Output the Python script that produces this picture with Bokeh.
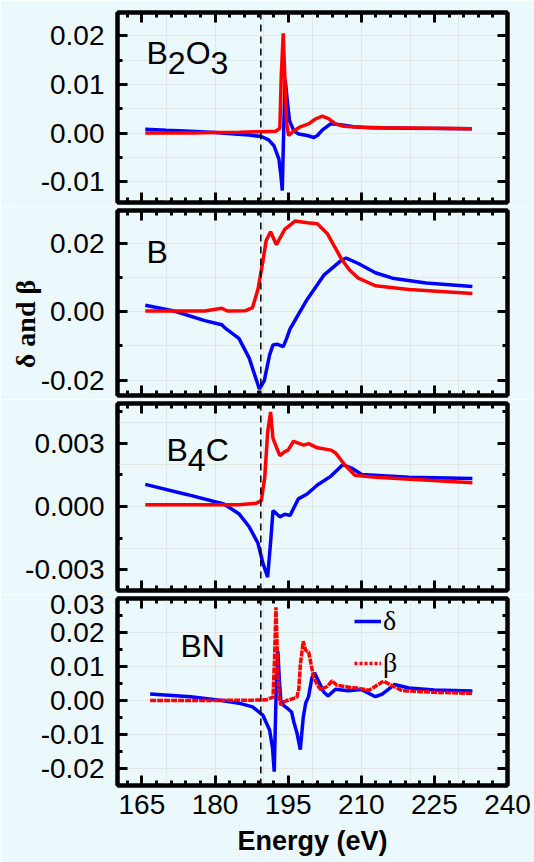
import numpy as np
from bokeh.plotting import figure
from bokeh.layouts import column
from bokeh.models import (Range1d, LinearAxis, FixedTicker, NumeralTickFormatter,
                          Span, Label, Legend, LegendItem, CustomLabelingPolicy)
from bokeh.embed import file_html
from bokeh.resources import INLINE

# ---------------- data ----------------
x_major_ticks = [165, 180, 195, 210, 225, 240]
x_minor_ticks = list(range(162, 241, 3))
edge_energy = 189.4

# B2O3
b2o3_E_delta = [165.7, 170, 175, 180, 184, 187, 189.5, 191, 192.1, 193.1, 193.5, 193.8,
                194.1, 194.4, 194.9, 195.3, 196.2, 197.2, 198.9, 200.3, 201.0, 202.0,
                203.7, 205.7, 208.5, 212, 220, 232.7]
b2o3_delta = [0.0008, 0.0006, 0.0004, 0.0001, -0.0002, -0.0004, -0.0007, -0.0014, -0.0026,
              -0.0053, -0.0085, -0.0118, 0.001, 0.011, 0.006, 0.0025, 0.0004, -0.0002,
              -0.0005, -0.0009, -0.0005, 0.0006, 0.0019, 0.0017, 0.0013, 0.0011, 0.001, 0.0009]
b2o3_E_beta = [165.7, 175, 180, 185, 189.5, 192.5, 193.3, 193.6, 194.0, 194.3, 194.7, 195.1,
               196.2, 197.5, 199.2, 200.6, 202.0, 203.3, 204.7, 206.4, 209.8, 215, 225, 232.7]
b2o3_beta = [0.0, 0.0, 0.0001, 0.0002, 0.0003, 0.0004, 0.001, 0.012, 0.0205, 0.012, 0.002,
             -0.0005, 0.0005, 0.0013, 0.0019, 0.0029, 0.0035, 0.003, 0.0019, 0.0014, 0.0012,
             0.0011, 0.001, 0.0009]

# B
b_E_delta = [165.7, 171.6, 177.9, 181.4, 182.1, 184.9, 187.0, 189.1, 190.1, 191.2, 191.9,
             192.7, 194.0, 194.7, 195.4, 198.9, 202.4, 205.9, 206.9, 209.4, 212.9, 216.4,
             223.3, 232.8]
b_delta = [0.0019, 0.0002, -0.0026, -0.0038, -0.0048, -0.0078, -0.0135, -0.0226, -0.0202,
           -0.0126, -0.0097, -0.0095, -0.0102, -0.0078, -0.005, 0.0036, 0.0108, 0.015, 0.0157,
           0.0141, 0.0114, 0.0098, 0.0084, 0.0074]
b_E_beta = [165.7, 177.9, 181.4, 182.5, 186.3, 187.7, 188.8, 189.8, 190.5, 191.4, 192.6,
            194.3, 196.4, 198.9, 201.0, 203.1, 205.9, 207.6, 209.4, 212.9, 219.8, 232.8]
b_beta = [0.0002, 0.0002, 0.001, 0.0002, 0.0003, 0.0012, 0.0065, 0.0146, 0.0208, 0.0234,
          0.0196, 0.0241, 0.0265, 0.026, 0.0257, 0.0227, 0.0155, 0.0122, 0.0098, 0.0076,
          0.0065, 0.0053]

# B4C
b4c_E_delta = [165.7, 174.4, 181.8, 184.9, 187.0, 188.8, 189.8, 190.8, 191.5, 191.9, 193.3,
               194.3, 195.4, 197.1, 198.9, 201.0, 203.8, 206.2, 208.0, 210.1, 219.8, 232.8]
b4c_delta = [0.00105, 0.00056, 0.00012, -0.00034, -0.00096, -0.00173, -0.00266, -0.00335,
             -0.00142, -0.00019, -0.00049, -0.00037, -0.00042, 0.00036, 0.00059, 0.00102,
             0.00144, 0.00198, 0.00182, 0.00152, 0.00139, 0.00133]
b4c_E_beta = [165.7, 184.9, 188.4, 189.5, 190.2, 190.8, 191.4, 191.9, 193.3, 194.3, 195.0,
              196.1, 198.2, 199.2, 201.0, 203.8, 204.8, 206.6, 208.7, 212.9, 232.8]
b4c_beta = [0.00008, 0.00008, 0.00015, 0.00028, 0.00136, 0.00353, 0.00448, 0.00322, 0.00241,
            0.0026, 0.00267, 0.00309, 0.00291, 0.00298, 0.00278, 0.00267, 0.00252, 0.00198,
            0.00148, 0.00139, 0.00113]

# BN
bn_E_delta = [166.7, 175, 181.4, 184.9, 187.7, 189.8, 191.2, 191.8, 192.15, 192.5, 192.9,
              193.2, 193.5, 194.0, 195.0, 195.7, 196.2, 196.8, 197.5, 198.1, 198.6, 199.2,
              199.9, 200.4, 201.3, 202.3, 203.2, 204.7, 207.3, 210.1, 212.9, 214.3, 216.8,
              219.8, 225, 232.8]
bn_delta = [0.0019, 0.0011, 0.0, -0.0008, -0.0019, -0.0043, -0.0087, -0.014, -0.021, 0.0,
            0.0145, 0.006, 0.0, -0.0014, -0.0025, -0.0034, -0.0065, -0.0095, -0.0145, -0.005,
            -0.0008, 0.0012, 0.0068, 0.0082, 0.0055, 0.0025, 0.0013, 0.0033, 0.0029, 0.0032,
            0.0011, 0.0019, 0.0047, 0.0037, 0.0031, 0.0028]
bn_E_beta = [166.7, 180, 188, 190.5, 191.9, 192.2, 192.5, 192.7, 192.9, 193.2, 193.5, 194.0,
             194.8, 196.8, 197.2, 197.5, 198.1, 198.6, 199.2, 199.7, 200.2, 201.0, 201.7,
             203.1, 204.0, 205.0, 207.2, 209.8, 211.6, 214.6, 216.4, 218.4, 225, 232.8]
bn_beta = [0.0, 0.0, 0.0001, 0.0002, 0.001, 0.012, 0.0275, 0.018, 0.0077, 0.001, -0.0014,
           -0.0005, 0.0, 0.0009, 0.0035, 0.0105, 0.0175, 0.0148, 0.0143, 0.0108, 0.007, 0.0045,
           0.0032, 0.0042, 0.0058, 0.0045, 0.004, 0.0035, 0.003, 0.0057, 0.0043, 0.0029,
           0.0024, 0.0021]

# y axes: ranges, ticks
b2o3_yrange = (-0.01427, 0.0248)
b2o3_yticks = [-0.01, 0.0, 0.01, 0.02]
b2o3_yminor = [-0.005, 0.005, 0.015]
b_yrange = (-0.0245, 0.0296)
b_yticks = [-0.02, 0.0, 0.02]
b_yminor = [-0.01, 0.01]
b4c_yrange = (-0.00398, 0.00488)
b4c_yticks = [-0.003, 0.0, 0.003]
b4c_yminor = [-0.0015, 0.0015, 0.0045]
bn_yrange = (-0.0251, 0.0301)
bn_yticks = [-0.02, -0.01, 0.0, 0.01, 0.02, 0.03]
bn_yminor = [-0.025, -0.015, -0.005, 0.005, 0.015, 0.025]

# ---------------- style ----------------
BG = "#EBF8FC"
FONT = "Liberation Sans"
SERIF = "Liberation Serif"
BLUE = "#0000FF"
RED = "#FF0000"
LW = 3.5
LABEL_DY = 15


def style_axis(ax, ticks, minor, show_labels, fmt=None, standoff=10):
    ax.ticker = FixedTicker(ticks=ticks, minor_ticks=minor)
    ax.axis_line_width = 4
    ax.axis_line_color = "black"
    ax.major_tick_in = 10
    ax.major_tick_out = 0
    ax.minor_tick_in = 5
    ax.minor_tick_out = 0
    ax.major_tick_line_width = 3
    ax.minor_tick_line_width = 3
    ax.major_tick_line_color = "black"
    ax.minor_tick_line_color = "black"
    if show_labels:
        ax.major_label_text_font = FONT
        ax.major_label_text_font_size = "28px"
        ax.major_label_text_color = "black"
        ax.major_label_standoff = standoff
        if fmt:
            ax.formatter = NumeralTickFormatter(format=fmt)
    else:
        ax.major_label_text_font_size = "1px"
        ax.major_label_standoff = 0
        ax.major_label_policy = CustomLabelingPolicy(code="return []")


def make_panel(height, yrange, yticks, yminor, fmt, border_top, border_bottom, bottom_labels):
    p = figure(width=534, height=height,
               x_range=Range1d(160, 240), y_range=Range1d(*yrange),
               x_axis_location=None, y_axis_location=None,
               output_backend="svg", toolbar_location=None,
               min_border_left=117, min_border_right=27,
               min_border_top=border_top, min_border_bottom=border_bottom,
               background_fill_color=BG, border_fill_color=BG,
               outline_line_color="black", outline_line_width=4)
    left = LinearAxis()
    style_axis(left, yticks, yminor, True, fmt, standoff=13)
    right = LinearAxis()
    style_axis(right, yticks, yminor, False)
    below = LinearAxis()
    style_axis(below, x_major_ticks, x_minor_ticks, bottom_labels, standoff=9)
    above = LinearAxis()
    style_axis(above, x_major_ticks, x_minor_ticks, False)
    p.add_layout(left, "left")
    p.add_layout(right, "right")
    p.add_layout(below, "below")
    p.add_layout(above, "above")
    p.add_layout(Span(location=edge_energy, dimension="height", line_color="black",
                      line_dash="7 5", line_width=1.5))
    return p, left, below


ADV = {"B": 0.667, "O": 0.778, "C": 0.722, "N": 0.722, "2": 0.556, "3": 0.556, "4": 0.556}


def add_formula(p, parts, x, y, size=32, drop=10):
    cx = x
    for t, sub in parts:
        p.add_layout(Label(x=cx, y=y + LABEL_DY - (drop if sub else 0),
                           x_units="screen", y_units="screen",
                           text=t, text_font=FONT, text_font_size=f"{size}px",
                           text_baseline="alphabetic", text_align="left", text_color="black"))
        cx += ADV[t] * size


# Panel 1: B2O3
p1, _, _ = make_panel(206, b2o3_yrange, b2o3_yticks, b2o3_yminor, "0.00", 12, 0, False)
p1.line(b2o3_E_delta, b2o3_delta, line_color=BLUE, line_width=LW)
p1.line(b2o3_E_beta, b2o3_beta, line_color=RED, line_width=LW)
add_formula(p1, [("B", False), ("2", True), ("O", False), ("3", True)], 29, 134.5)

# Panel 2: B  (carries the shared y title; trailing no-break spaces nudge it downward)
p2, left2, _ = make_panel(193, b_yrange, b_yticks, b_yminor, "0.00", 0, 0, False)
p2.line(b_E_delta, b_delta, line_color=BLUE, line_width=LW)
p2.line(b_E_beta, b_beta, line_color=RED, line_width=LW)
add_formula(p2, [("B", False)], 29, 129)
left2.axis_label = "δ and β" + "\u00a0" * 6
left2.axis_label_text_font = SERIF
left2.axis_label_text_font_style = "bold"
left2.axis_label_text_font_size = "28px"
left2.axis_label_text_color = "black"
left2.axis_label_standoff = -3

# Panel 3: B4C
p3, _, _ = make_panel(195, b4c_yrange, b4c_yticks, b4c_yminor, "0.000", 0, 0, False)
p3.line(b4c_E_delta, b4c_delta, line_color=BLUE, line_width=LW)
p3.line(b4c_E_beta, b4c_beta, line_color=RED, line_width=LW)
add_formula(p3, [("B", False), ("4", True), ("C", False)], 49, 126)

# Panel 4: BN
p4, _, bottom_axis = make_panel(268, bn_yrange, bn_yticks, bn_yminor, "0.00", 0, 77, True)
rb = p4.line(bn_E_delta, bn_delta, line_color=BLUE, line_width=LW)
p4.line(bn_E_beta, bn_beta, line_color=RED, line_width=LW, line_dash="6 1")
rr_key = p4.line(np.array([np.nan]), np.array([np.nan]), line_color=RED, line_width=LW,
                 line_dash="3 2")
add_formula(p4, [("B", False), ("N", False)], 63, 125)
bottom_axis.axis_label = "Energy (eV)"
bottom_axis.axis_label_text_font = FONT
bottom_axis.axis_label_text_font_style = "bold"
bottom_axis.axis_label_text_font_size = "27px"
bottom_axis.axis_label_text_color = "black"
bottom_axis.axis_label_standoff = 9

legend = Legend(items=[LegendItem(label="δ", renderers=[rb]), LegendItem(label="β", renderers=[rr_key])],
                location=(237, 106), orientation="vertical", padding=0, margin=0, spacing=10,
                glyph_width=27, glyph_height=30, label_height=30, label_standoff=2,
                label_text_font=SERIF, label_text_font_size="28px", label_text_color="black",
                border_line_color=None, background_fill_alpha=0)
p4.add_layout(legend)

layout = column(p1, p2, p3, p4, spacing=0)
open("out.html", "w").write(file_html(layout, INLINE))
